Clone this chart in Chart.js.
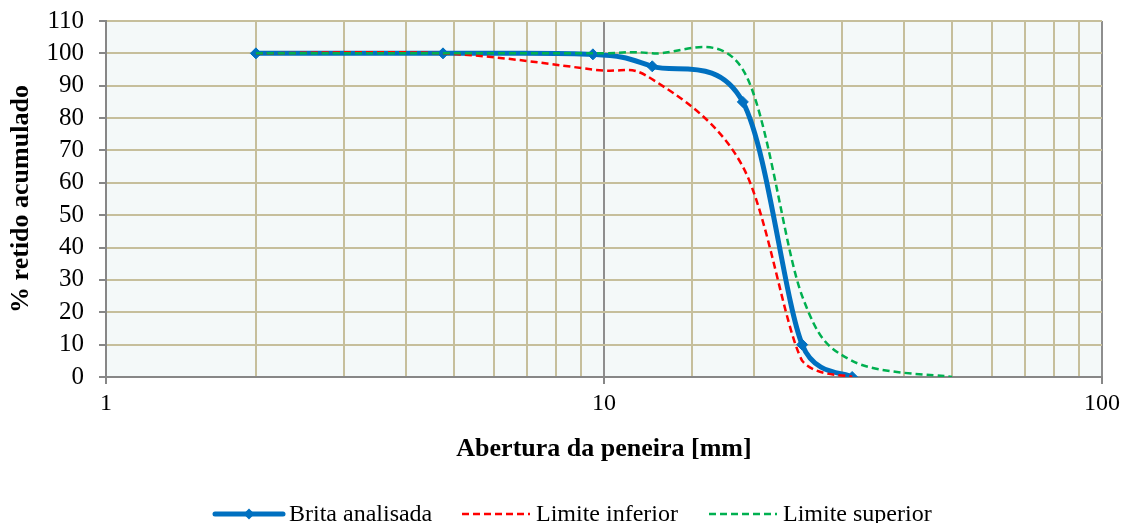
<!DOCTYPE html>
<html>
<head>
<meta charset="utf-8">
<title>Curva granulométrica</title>
<script src="https://cdn.jsdelivr.net/npm/chart.js@4/dist/chart.umd.min.js"></script>
<style>
  html, body { margin: 0; padding: 0; background: #fff; }
  #wrap { width: 1122px; height: 523px; }
</style>
</head>
<body>
<div id="wrap"><canvas id="granChart" width="1122" height="523"></canvas></div>
<script>
// peneiras (mm) e % retido acumulado
const sieves = [2, 4.75, 9.5, 12.5, 19, 25, 31.5];
const brita = [100, 100, 99.7, 96, 85, 10, 0];

const inferiorSieves = [2, 4.75, 9.5, 12.5, 19, 25, 31.5];
const inferior = [100, 100, 95, 92, 65, 5, 0];

const superiorSieves = [2, 4.75, 9.5, 12.5, 19, 25, 31.5, 50];
const superior = [100, 100, 100, 100, 95, 25, 5, 0];

const xTickLabels = [1, 10, 100];
const yTickLabels = [0, 10, 20, 30, 40, 50, 60, 70, 80, 90, 100, 110];

const serif = "'Liberation Serif', 'Times New Roman', serif";
const tan = '#C6BF9C';
const axisGray = '#878787';

const toPoints = (xs, ys) => xs.map((x, i) => ({ x: x, y: ys[i] }));
const isDecade = v => Math.abs(Math.log10(v) - Math.round(Math.log10(v))) < 1e-9;

const plotBg = {
  id: 'plotBg',
  beforeDraw(chart) {
    const { ctx, chartArea: a } = chart;
    ctx.save();
    ctx.fillStyle = '#F4F9F9';
    ctx.fillRect(a.left, a.top, a.right - a.left, a.bottom - a.top);
    ctx.restore();
  }
};

// suavização tipo planilha: controle = P ± f·(P[i+1] − P[i-1]),
// f = 1/6 limitado pelo peso da distância ao vizinho
const SMOOTH = 0.6;
const smoothCurve = {
  id: 'smoothCurve',
  beforeDatasetDraw(chart, args) {
    const meta = args.meta;
    const pts = meta.data;
    const n = pts.length;
    const area = chart.chartArea;
    if (!meta.dataset || n < 2) return;
    const clampY = y => Math.min(area.bottom, Math.max(area.top, y));
    for (let i = 0; i < n; i++) {
      const p = pts[i];
      const prev = pts[Math.max(i - 1, 0)];
      const next = pts[Math.min(i + 1, n - 1)];
      const d01 = Math.hypot(p.x - prev.x, p.y - prev.y);
      const d12 = Math.hypot(next.x - p.x, next.y - p.y);
      const sum = d01 + d12;
      const fa = sum ? Math.min(1 / 6, SMOOTH * d01 / sum) : 0;
      const fb = sum ? Math.min(1 / 6, SMOOTH * d12 / sum) : 0;
      const vx = next.x - prev.x;
      const vy = next.y - prev.y;
      p.cp1x = p.x - fa * vx;
      p.cp1y = clampY(p.y - fa * vy);
      p.cp2x = p.x + fb * vx;
      p.cp2y = clampY(p.y + fb * vy);
    }
    meta.dataset._pointsUpdated = true;
    meta.dataset._path = undefined;
  }
};

// legenda com amostra de linha (tracejado e marcador)
const lineLegend = {
  id: 'lineLegend',
  afterDraw(chart) {
    const { ctx } = chart;
    const y = 514;
    let x = 213;
    ctx.save();
    chart.data.datasets.forEach(ds => {
      ctx.beginPath();
      ctx.setLineDash(ds.borderDash || []);
      ctx.lineWidth = ds.borderWidth;
      ctx.strokeStyle = ds.borderColor;
      ctx.lineCap = ds.borderCapStyle || 'butt';
      ctx.moveTo(x + 2, y);
      ctx.lineTo(x + 70, y);
      ctx.stroke();
      ctx.setLineDash([]);
      if (ds.pointRadius > 0) {
        const r = ds.pointRadius;
        const cx = x + 36;
        ctx.beginPath();
        ctx.moveTo(cx, y - r);
        ctx.lineTo(cx + r, y);
        ctx.lineTo(cx, y + r);
        ctx.lineTo(cx - r, y);
        ctx.closePath();
        ctx.fillStyle = ds.pointBackgroundColor;
        ctx.fill();
      }
      ctx.fillStyle = '#000';
      ctx.font = '24px ' + serif;
      ctx.textBaseline = 'middle';
      ctx.textAlign = 'left';
      ctx.fillText(ds.label, x + 76, y + 1);
      x += 247;
    });
    ctx.restore();
  }
};

new Chart(document.getElementById('granChart'), {
  type: 'line',
  data: {
    datasets: [
      {
        label: 'Brita analisada',
        data: toPoints(sieves, brita),
        borderColor: '#0070C0',
        backgroundColor: '#0070C0',
        borderWidth: 5,
        borderCapStyle: 'round',
        borderJoinStyle: 'round',
        pointStyle: 'rectRot',
        pointRadius: 5.5,
        pointBackgroundColor: '#0070C0',
        pointBorderColor: '#0070C0',
        pointBorderWidth: 1,
        tension: 0.35,
        order: 3
      },
      {
        label: 'Limite inferior',
        data: toPoints(inferiorSieves, inferior),
        borderColor: '#FF0000',
        borderWidth: 2.5,
        borderDash: [7, 4],
        pointRadius: 0,
        tension: 0.35,
        order: 2
      },
      {
        label: 'Limite superior',
        data: toPoints(superiorSieves, superior),
        borderColor: '#00B050',
        borderWidth: 2.5,
        borderDash: [7, 4],
        pointRadius: 0,
        tension: 0.35,
        order: 1
      }
    ]
  },
  options: {
    responsive: false,
    animation: false,
    devicePixelRatio: 1,
    layout: { padding: { top: 21, right: 20, bottom: 45, left: 0 } },
    plugins: {
      legend: { display: false },
      tooltip: { enabled: false }
    },
    scales: {
      x: {
        type: 'logarithmic',
        min: 1,
        max: 100,
        afterFit: s => {
          s.height = 101;
          s.paddingLeft = 0;
          s.paddingRight = 0;
        },
        border: { color: axisGray, width: 2 },
        grid: {
          color: c => (c.tick && isDecade(c.tick.value)) ? '#8E8E8E' : tan,
          lineWidth: 2,
          tickLength: 7,
          tickColor: c => (c.tick && isDecade(c.tick.value)) ? axisGray : 'rgba(0,0,0,0)',
          tickWidth: 2
        },
        ticks: {
          autoSkip: false,
          maxRotation: 0,
          padding: 5,
          color: '#000',
          font: { family: serif, size: 24 },
          callback: v => xTickLabels.includes(v) ? String(v) : ''
        },
        title: {
          display: true,
          text: 'Abertura da peneira [mm]',
          color: '#000',
          font: { family: serif, size: 26, weight: 'bold' },
          padding: { top: 0, bottom: 13 }
        }
      },
      y: {
        min: yTickLabels[0],
        max: yTickLabels[yTickLabels.length - 1],
        afterFit: s => {
          s.width = 106;
          s.paddingTop = 0;
          s.paddingBottom = 0;
        },
        border: { color: axisGray, width: 2 },
        grid: {
          color: tan,
          lineWidth: 2,
          tickLength: 7,
          tickColor: axisGray,
          tickWidth: 2
        },
        ticks: {
          stepSize: 10,
          autoSkip: false,
          padding: 15,
          color: '#000',
          font: { family: serif, size: 25 }
        },
        title: {
          display: true,
          text: '% retido acumulado',
          color: '#000',
          font: { family: serif, size: 26, weight: 'bold' },
          padding: { top: 6, bottom: 0 }
        }
      }
    }
  },
  plugins: [plotBg, smoothCurve, lineLegend]
});
</script>
</body>
</html>
